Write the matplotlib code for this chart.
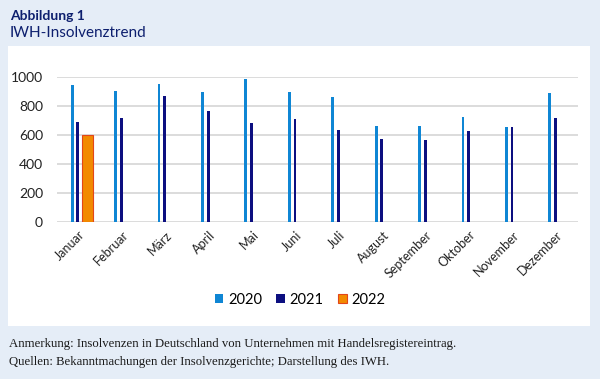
#!/usr/bin/env python
"""
IWH-Insolvenztrend: monthly insolvencies 2020-2022 as grouped bars.
"""
import numpy as np
import matplotlib
matplotlib.use("Agg")
import matplotlib.pyplot as plt
from matplotlib.patches import Rectangle

# Data
months = ["Januar", "Februar", "März", "April", "Mai", "Juni", "Juli",
          "August", "September", "Oktober", "November", "Dezember"]
values_2020 = [943, 901, 949, 899, 984, 894, 862, 664, 664, 722, 653, 887]
values_2021 = [688, 715, 869, 768, 683, 708, 637, 570, 568, 625, 653, 715]
values_2022 = [602]
years = ["2020", "2021", "2022"]
y_ticks = [0, 200, 400, 600, 800, 1000]

BG = "#e5edf7"
C2020 = "#0f86d4"
C2021 = "#0c0f80"
C2022 = "#f28a00"
TITLE_COL = "#0d1f6e"

fig = plt.figure(figsize=(6.0, 3.79), dpi=100)
fig.patch.set_facecolor(BG)

# white panel behind the chart
fig.patches.append(Rectangle((8 / 600, 1 - 326 / 379), 582 / 600, 280 / 379,
                             transform=fig.transFigure, facecolor="white",
                             edgecolor="none", zorder=-5))

ax = fig.add_axes([57 / 600, 1 - 221.7 / 379, 521 / 600, 144.7 / 379])
ax.set_zorder(2)
ax.patch.set_alpha(0)

x = np.arange(len(months)) + 0.5
ax.bar(x - 0.15, values_2020, width=0.065, color=C2020, zorder=3, label=years[0])
ax.bar(x - 0.02, values_2021, width=0.065, color=C2021, zorder=3, label=years[1])
ax.bar(x[:len(values_2022)] + 0.195, values_2022, width=0.26, color=C2022,
       edgecolor="#e2461a", linewidth=0.8, zorder=3, label=years[2])

ax.set_xlim(0, len(months))
ax.set_ylim(0, 1000)
ax.set_yticks(y_ticks)
ax.set_xticks(x)
ax.set_xticklabels(months, rotation=45, ha="right", rotation_mode="anchor",
                   fontsize=9, family="Lato", color="#222222")
ax.tick_params(axis="x", length=0, pad=5)
ax.tick_params(axis="y", length=0, pad=10, labelsize=10, labelcolor="#222222")
for lbl in ax.get_yticklabels():
    lbl.set_family("Lato")
ax.grid(axis="y", color="#d9d9d9", linewidth=1.3, zorder=0)
for s in ax.spines.values():
    s.set_visible(False)

leg = ax.legend(loc="center", bbox_to_anchor=(0.5, 1 - 300 / 379),
                bbox_transform=fig.transFigure,
                ncol=3, frameon=False, handlelength=0.6, handleheight=0.6,
                handletextpad=0.3, columnspacing=1.0,
                prop={"family": "Lato", "size": 10.5})

fig.text(10 / 600, 1 - 16 / 379, "Abbildung 1", fontsize=10, fontweight="bold",
         color=TITLE_COL, family="Lato", va="center")
fig.text(10 / 600, 1 - 33 / 379, "IWH-Insolvenztrend", fontsize=11,
         color=TITLE_COL, family="Lato", va="center")

fig.text(9 / 600, 1 - 344 / 379,
         "Anmerkung: Insolvenzen in Deutschland von Unternehmen mit Handelsregistereintrag.",
         fontsize=9.2, family="Liberation Serif", color="#1a1a1a", va="center")
fig.text(9 / 600, 1 - 362 / 379,
         "Quellen: Bekanntmachungen der Insolvenzgerichte; Darstellung des IWH.",
         fontsize=9.2, family="Liberation Serif", color="#1a1a1a", va="center")

fig.savefig("out.png", dpi=100, facecolor=BG)
